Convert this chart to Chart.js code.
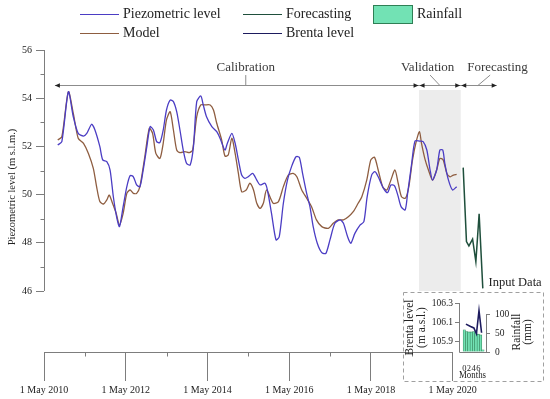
<!DOCTYPE html>
<html>
<head>
<meta charset="utf-8">
<script src="https://cdn.jsdelivr.net/npm/chart.js@4.4.0/dist/chart.umd.min.js"></script>
<style>
  html, body { margin: 0; padding: 0; background: #fff; }
  #wrap { position: relative; width: 550px; height: 399px; font-family: 'Liberation Serif', serif; }
  #mainChart { position: absolute; left: 0; top: 0; }
  #insetChart { position: absolute; left: 403px; top: 292px; }
  .lg-text { position: absolute; font-size: 14px; color: #222; line-height: 16px; white-space: nowrap; }
  .lg-line { position: absolute; height: 0; border-top: 1.6px solid; }
  .lg-box { position: absolute; border: 1.3px solid; box-sizing: border-box; }
</style>
</head>
<body>
<div id="wrap">
  <canvas id="mainChart" width="550" height="399"></canvas>
  <canvas id="insetChart" width="141" height="90"></canvas>
  <div id="legend"></div>
</div>
<script>
// ---- data (time in decimal years) ----
const yearTicks = [2010, 2011, 2012, 2013, 2014, 2015, 2016, 2017, 2018, 2019, 2020]
const mayOffset = 4 / 12
const levelTicks = [46, 47, 48, 49, 50, 51, 52, 53, 54, 55, 56]

const obsT = [2010.67, 2010.77, 2010.93, 2011.05, 2011.17, 2011.30, 2011.38, 2011.50, 2011.58, 2011.70,
  2011.77, 2011.87, 2011.95, 2012.03, 2012.11, 2012.18, 2012.27, 2012.36, 2012.44, 2012.52,
  2012.60, 2012.68, 2012.76, 2012.85, 2012.93, 2013.01, 2013.09, 2013.17, 2013.25, 2013.33,
  2013.42, 2013.50, 2013.58, 2013.66, 2013.74, 2013.82, 2013.91, 2013.99, 2014.07, 2014.17,
  2014.23, 2014.31, 2014.44, 2014.56, 2014.64, 2014.76, 2014.82, 2014.93, 2015.01, 2015.09,
  2015.17, 2015.25, 2015.33, 2015.44, 2015.54, 2015.62, 2015.74, 2015.80, 2015.90, 2016.01,
  2016.09, 2016.19, 2016.29, 2016.39, 2016.50, 2016.58, 2016.66, 2016.76, 2016.84, 2016.92,
  2017.02, 2017.13, 2017.23, 2017.33, 2017.45, 2017.58, 2017.66, 2017.76, 2017.84, 2017.94,
  2018.07, 2018.16, 2018.24, 2018.35, 2018.43, 2018.51, 2018.64, 2018.74, 2018.82, 2018.91,
  2018.99, 2019.07, 2019.17, 2019.23, 2019.33, 2019.41, 2019.52, 2019.61, 2019.70, 2019.78,
  2019.84, 2019.94, 2020.02, 2020.09, 2020.14, 2020.23, 2020.33, 2020.43]
const obsLevel = [52.06, 52.20, 54.27, 53.23, 52.54, 52.43, 52.54, 52.92, 52.68, 51.99,
  51.44, 51.37, 51.02, 49.91, 49.08, 48.67, 49.50, 50.33, 50.79, 50.74,
  50.40, 50.33, 51.02, 51.99, 52.82, 52.68, 52.20, 52.16, 52.68, 53.51,
  53.92, 53.86, 53.44, 52.68, 51.85, 51.30, 51.23, 51.99, 53.86, 54.09,
  53.72, 53.23, 52.82, 52.61, 52.34, 51.85, 52.13, 52.54, 52.13, 51.44,
  50.81, 50.67, 50.74, 50.88, 50.60, 50.40, 50.47, 50.19, 49.22, 48.12,
  48.26, 49.64, 50.60, 51.16, 51.57, 51.55, 50.88, 50.05, 49.50, 48.67,
  47.98, 47.59, 47.56, 48.12, 48.81, 48.95, 48.81, 48.26, 47.98, 48.39,
  48.74, 48.88, 49.91, 50.81, 50.95, 50.74, 50.26, 50.08, 50.40, 50.36,
  49.98, 49.50, 49.36, 50.05, 51.30, 52.22, 52.22, 52.20, 51.85, 51.02,
  50.60, 51.02, 51.85, 51.85, 51.30, 50.60, 50.19, 50.33]

const modT = [2010.67, 2010.77, 2010.93, 2011.05, 2011.17, 2011.30, 2011.42, 2011.54, 2011.62, 2011.70,
  2011.79, 2011.87, 2011.93, 2012.01, 2012.10, 2012.18, 2012.27, 2012.36, 2012.44, 2012.52,
  2012.60, 2012.68, 2012.80, 2012.91, 2012.99, 2013.07, 2013.17, 2013.25, 2013.33, 2013.42,
  2013.50, 2013.58, 2013.66, 2013.78, 2013.89, 2013.97, 2014.07, 2014.17, 2014.27, 2014.40,
  2014.48, 2014.56, 2014.68, 2014.76, 2014.84, 2014.93, 2015.01, 2015.09, 2015.17, 2015.28,
  2015.37, 2015.46, 2015.54, 2015.62, 2015.70, 2015.78, 2015.94, 2016.07, 2016.19, 2016.31,
  2016.43, 2016.52, 2016.64, 2016.76, 2016.88, 2017.00, 2017.13, 2017.29, 2017.41, 2017.53,
  2017.66, 2017.78, 2017.90, 2018.02, 2018.11, 2018.23, 2018.33, 2018.42, 2018.51, 2018.62,
  2018.72, 2018.82, 2018.92, 2019.00, 2019.08, 2019.18, 2019.26, 2019.35, 2019.44, 2019.52,
  2019.57, 2019.66, 2019.74, 2019.84, 2019.94, 2020.02, 2020.10, 2020.19, 2020.27, 2020.35,
  2020.43]
const modLevel = [52.27, 52.40, 54.27, 53.37, 52.34, 52.13, 51.71, 51.09, 50.33, 49.71,
  49.61, 49.78, 49.98, 49.64, 49.22, 48.74, 49.22, 50.05, 50.19, 50.05,
  50.05, 50.33, 51.57, 52.75, 52.54, 51.71, 51.50, 52.13, 53.10, 53.44,
  52.68, 51.85, 51.74, 51.78, 51.74, 51.85, 53.23, 53.72, 53.72, 53.72,
  53.51, 52.96, 52.27, 51.60, 51.64, 52.34, 51.71, 50.88, 50.12, 50.19,
  50.47, 50.19, 49.64, 49.43, 49.64, 50.19, 49.64, 49.71, 50.33, 50.81,
  50.88, 50.74, 50.19, 49.85, 49.50, 48.95, 48.67, 48.60, 48.81, 48.95,
  48.95, 49.08, 49.29, 49.64, 49.91, 50.60, 51.44, 51.55, 51.02, 50.33,
  50.19, 50.60, 51.02, 50.47, 49.91, 49.85, 50.33, 51.44, 52.20, 52.61,
  52.13, 51.44, 51.02, 50.60, 51.02, 51.50, 51.44, 50.88, 50.74, 50.81,
  50.84]

const fcT = [2020.59, 2020.67, 2020.73, 2020.82, 2020.90, 2020.98, 2021.07]
const fcLevel = [51.12, 48.05, 47.87, 48.15, 47.22, 49.20, 46.11]

// calibration start, validation start, forecasting start, forecasting end
const periodEdges = [2010.60, 2019.51, 2020.53, 2021.41]
const periodNames = ['Calibration', 'Validation', 'Forecasting']
const periodLabelAt = [2015.27, 2019.72, 2021.43]
const leaderFrom = [2015.27, 2019.78, 2021.25]
const leaderTo = [2015.27, 2020.02, 2020.95]
const validationTop = 54.34

// inset: months after the last observation
const monthTicks = [0, 2, 4, 6]
const rainMonth = [0, 1, 2, 3, 4, 5, 6, 7, 8]
const rainfall = [60, 55, 54, 54, 55, 52, 48, 46, 6]
const brentaMonth = [0.7, 2.7, 4.1, 5.2, 6.3, 7.4]
const brentaLevel = [106.08, 106.055, 106.04, 105.98, 106.22, 105.99]
const brentaTicks = [105.9, 106.1, 106.3]
const rainTicks = [0, 50, 100]

const SERIF = "'Liberation Serif', 'Times New Roman', serif"
const axisColor = '#7d7d7d'
const textColor = '#222'
const clear = 'rgba(0,0,0,0)'

function toPoints(xs, ys) {
    return xs.map((v, i) => ({ x: v, y: ys[i] }))
}

const mainDecor = {
    id: 'mainDecor',
    beforeDatasetsDraw(chart) {
        const { ctx } = chart
        const xs = chart.scales.x, ys = chart.scales.y
        const xa = xs.getPixelForValue(periodEdges[1])
        const xb = xs.getPixelForValue(periodEdges[2])
        const ya = ys.getPixelForValue(validationTop)
        const yb = ys.getPixelForValue(levelTicks[0])
        ctx.save()
        ctx.fillStyle = '#ececec'
        ctx.fillRect(xa, ya, xb - xa, yb - ya)
        ctx.restore()
    },
    afterDraw(chart) {
        const { ctx, chartArea } = chart
        const xs = chart.scales.x, ys = chart.scales.y
        ctx.save()
        ctx.strokeStyle = axisColor
        ctx.lineWidth = 1

        // y spine + minor ticks
        const xl = Math.round(chartArea.left) + 0.5
        ctx.beginPath()
        ctx.moveTo(xl, ys.getPixelForValue(levelTicks[levelTicks.length - 1]))
        ctx.lineTo(xl, ys.getPixelForValue(levelTicks[0]))
        levelTicks.forEach(v => {
            if (v % 2 === 0) return
            const py = Math.round(ys.getPixelForValue(v)) + 0.5
            ctx.moveTo(xl - 4, py)
            ctx.lineTo(xl, py)
        })
        ctx.stroke()

        // x spine + minor ticks
        const yb = Math.round(chartArea.bottom) + 0.5
        ctx.beginPath()
        ctx.moveTo(xs.getPixelForValue(yearTicks[0] + mayOffset), yb)
        ctx.lineTo(xs.getPixelForValue(yearTicks[yearTicks.length - 1] + mayOffset), yb)
        yearTicks.forEach(yr => {
            if (yr % 2 === 0) return
            const px = Math.round(xs.getPixelForValue(yr + mayOffset)) + 0.5
            ctx.moveTo(px, yb)
            ctx.lineTo(px, yb + 4)
        })
        ctx.stroke()

        // period arrows
        const ay = Math.round(ys.getPixelForValue(54.55)) + 0.5
        ctx.strokeStyle = '#8c8c8c'
        ctx.beginPath()
        ctx.moveTo(xs.getPixelForValue(periodEdges[0]), ay)
        ctx.lineTo(xs.getPixelForValue(periodEdges[3]), ay)
        ctx.stroke()

        ctx.fillStyle = '#222'
        function head(px, dir) {
            ctx.beginPath()
            ctx.moveTo(px, ay)
            ctx.lineTo(px - dir * 5, ay - 2.2)
            ctx.lineTo(px - dir * 5, ay + 2.2)
            ctx.closePath()
            ctx.fill()
        }
        head(xs.getPixelForValue(periodEdges[0]), -1)
        head(xs.getPixelForValue(periodEdges[1]) - 0.5, 1)
        head(xs.getPixelForValue(periodEdges[1]) + 0.5, -1)
        head(xs.getPixelForValue(periodEdges[2]) - 0.5, 1)
        head(xs.getPixelForValue(periodEdges[2]) + 0.5, -1)
        head(xs.getPixelForValue(periodEdges[3]), 1)

        // leader lines + period names
        ctx.strokeStyle = '#8c8c8c'
        ctx.beginPath()
        periodNames.forEach((name, i) => {
            ctx.moveTo(xs.getPixelForValue(leaderFrom[i]), ys.getPixelForValue(54.96))
            ctx.lineTo(xs.getPixelForValue(leaderTo[i]), ay)
        })
        ctx.stroke()

        ctx.fillStyle = '#3a3a3a'
        ctx.font = '13px ' + SERIF
        ctx.textAlign = 'center'
        ctx.textBaseline = 'middle'
        periodNames.forEach((name, i) => {
            ctx.fillText(name, xs.getPixelForValue(periodLabelAt[i]), ys.getPixelForValue(55.25))
        })

        ctx.fillStyle = textColor
        ctx.font = '12.5px ' + SERIF
        ctx.fillText('Input Data', xs.getPixelForValue(2021.86), ys.getPixelForValue(46.33))

        // y axis title
        ctx.font = '10.5px ' + SERIF
        ctx.translate(12.5, 187)
        ctx.rotate(-Math.PI / 2)
        ctx.fillText('Piezometric level (m s.l.m.)', 0, 0)
        ctx.restore()
    }
}

const mainChart = new Chart(document.getElementById('mainChart'), {
    type: 'line',
    data: {
        datasets: [
            {
                label: 'Piezometric level',
                data: toPoints(obsT, obsLevel),
                borderColor: '#4b3dc4',
                borderWidth: 1.3,
                pointRadius: 0,
                tension: 0.25
            },
            {
                label: 'Model',
                data: toPoints(modT, modLevel),
                borderColor: '#8e5d40',
                borderWidth: 1.3,
                pointRadius: 0,
                tension: 0.25
            },
            {
                label: 'Forecasting',
                data: toPoints(fcT, fcLevel),
                borderColor: '#1f4f3c',
                borderWidth: 1.5,
                pointRadius: 0,
                tension: 0
            }
        ]
    },
    options: {
        responsive: false,
        animation: false,
        devicePixelRatio: 1,
        events: [],
        layout: { padding: { top: 50, right: 5, left: 0, bottom: 0 } },
        plugins: { legend: { display: false }, tooltip: { enabled: false } },
        scales: {
            x: {
                type: 'linear',
                min: yearTicks[0] + mayOffset,
                max: yearTicks[0] + mayOffset + 501 / 40.87,
                afterFit: s => { s.height = 47 },
                afterBuildTicks: s => { s.ticks = yearTicks.map(yr => ({ value: yr + mayOffset })) },
                ticks: {
                    autoSkip: false,
                    maxRotation: 0,
                    padding: 3,
                    color: textColor,
                    font: { family: SERIF, size: 10 },
                    callback: (v, i) => (yearTicks[i] % 2 === 0 ? '1 May ' + yearTicks[i] : '')
                },
                grid: {
                    drawOnChartArea: false,
                    tickLength: 29,
                    tickColor: c => (yearTicks[c.index] % 2 === 0 ? axisColor : clear)
                },
                border: { display: false }
            },
            y: {
                type: 'linear',
                min: 56 - 302 / 24.1,
                max: 56,
                afterFit: s => { s.width = 44 },
                afterBuildTicks: s => { s.ticks = levelTicks.map(v => ({ value: v })) },
                ticks: {
                    padding: 4,
                    color: textColor,
                    font: { family: SERIF, size: 10 },
                    callback: v => (v % 2 === 0 ? String(v) : '')
                },
                grid: {
                    drawOnChartArea: false,
                    tickLength: 8,
                    tickColor: c => (c.tick && c.tick.value % 2 === 0 ? axisColor : clear)
                },
                border: { display: false }
            }
        }
    },
    plugins: [mainDecor]
})

const insetDecor = {
    id: 'insetDecor',
    beforeDraw(chart) {
        const { ctx } = chart
        ctx.save()
        ctx.strokeStyle = '#a0a0a0'
        ctx.lineWidth = 1
        ctx.setLineDash([4, 3])
        ctx.strokeRect(0.5, 0.5, chart.width - 1, chart.height - 1)
        ctx.restore()
    },
    afterDraw(chart) {
        const { ctx, chartArea } = chart
        const yl = chart.scales.y, yr = chart.scales.y2
        ctx.save()
        ctx.strokeStyle = axisColor
        ctx.lineWidth = 1
        const xl = Math.round(chartArea.left) + 0.5
        const xr = Math.round(chartArea.right) + 0.5
        const yb = Math.round(chartArea.bottom) + 0.5
        ctx.beginPath()
        ctx.moveTo(xl, yl.getPixelForValue(brentaTicks[brentaTicks.length - 1]))
        ctx.lineTo(xl, yb)
        ctx.lineTo(xr, yb)
        ctx.moveTo(xr, yr.getPixelForValue(rainTicks[rainTicks.length - 1]))
        ctx.lineTo(xr, yb)
        ctx.stroke()

        ctx.fillStyle = textColor
        ctx.font = '11.5px ' + SERIF
        ctx.textAlign = 'center'
        ctx.textBaseline = 'middle'
        ctx.translate(113.7, 40)
        ctx.rotate(-Math.PI / 2)
        ctx.fillText('Rainfall', 0, 0)
        ctx.fillText('(mm)', 0, 11.5)
        ctx.restore()
    }
}

const insetChart = new Chart(document.getElementById('insetChart'), {
    type: 'bar',
    data: {
        datasets: [
            {
                type: 'line',
                label: 'Brenta level',
                data: toPoints(brentaMonth, brentaLevel),
                yAxisID: 'y',
                borderColor: '#1d1b5e',
                borderWidth: 1.6,
                pointRadius: 0,
                tension: 0,
                order: 0
            },
            {
                type: 'bar',
                label: 'Rainfall',
                data: toPoints(rainMonth, rainfall),
                yAxisID: 'y2',
                backgroundColor: '#72e2b4',
                borderColor: '#2f7f55',
                borderWidth: 0.6,
                barPercentage: 1,
                categoryPercentage: 1,
                order: 1
            }
        ]
    },
    options: {
        responsive: false,
        animation: false,
        devicePixelRatio: 1,
        events: [],
        layout: { padding: { top: 11, left: 0, right: 0, bottom: 0 } },
        plugins: { legend: { display: false }, tooltip: { enabled: false } },
        scales: {
            x: {
                type: 'linear',
                offset: false,
                min: -2.27,
                max: 9.3,
                afterFit: s => { s.height = 30 },
                afterBuildTicks: s => { s.ticks = monthTicks.map(v => ({ value: v })) },
                ticks: {
                    autoSkip: false,
                    maxRotation: 0,
                    padding: 3.5,
                    color: textColor,
                    font: { family: SERIF, size: 8.5 },
                    callback: v => String(v)
                },
                grid: { display: false },
                border: { display: false },
                title: {
                    display: true,
                    text: 'Months',
                    color: textColor,
                    font: { family: SERIF, size: 10 },
                    padding: { top: 0, bottom: 1 }
                }
            },
            y: {
                type: 'linear',
                position: 'left',
                min: 106.3 - 49 / 96,
                max: 106.3,
                afterFit: s => { s.width = 56 },
                afterBuildTicks: s => { s.ticks = brentaTicks.map(v => ({ value: v })) },
                ticks: {
                    padding: 2,
                    color: textColor,
                    font: { family: SERIF, size: 9.5 },
                    callback: v => v.toFixed(1)
                },
                grid: { drawOnChartArea: false, tickLength: 4, tickColor: axisColor },
                border: { display: false },
                title: {
                    display: true,
                    text: ['Brenta level', '(m a.s.l.)'],
                    color: textColor,
                    font: { family: SERIF, size: 11.5, lineHeight: 1.02 },
                    padding: { top: 1, bottom: 0 }
                }
            },
            y2: {
                type: 'linear',
                position: 'right',
                min: 0,
                max: 132,
                afterFit: s => { s.width = 58 },
                afterBuildTicks: s => { s.ticks = rainTicks.map(v => ({ value: v })) },
                ticks: {
                    padding: 5,
                    color: textColor,
                    font: { family: SERIF, size: 9.5 },
                    callback: v => String(v)
                },
                grid: { drawOnChartArea: false, tickLength: 4, tickColor: axisColor },
                border: { display: false }
            }
        }
    },
    plugins: [insetDecor]
})

// legend laid out in two rows like the figure
function buildLegend() {
    const holder = document.getElementById('legend')
    const main = mainChart.data.datasets
    const inset = insetChart.data.datasets
    const entries = [
        { ds: main[0], left: 80, top: 14 },
        { ds: main[1], left: 80, top: 33 },
        { ds: main[2], left: 243, top: 14 },
        { ds: inset[0], left: 243, top: 33 },
        { ds: inset[1], left: 373, top: 14, box: true }
    ]
    entries.forEach(e => {
        const mark = document.createElement('div')
        if (e.box) {
            mark.className = 'lg-box'
            mark.style.left = e.left + 'px'
            mark.style.top = (e.top - 9) + 'px'
            mark.style.width = '40px'
            mark.style.height = '19px'
            mark.style.background = e.ds.backgroundColor
            mark.style.borderColor = e.ds.borderColor
        } else {
            mark.className = 'lg-line'
            mark.style.left = e.left + 'px'
            mark.style.top = e.top + 'px'
            mark.style.width = '39px'
            mark.style.borderTopColor = e.ds.borderColor
        }
        holder.appendChild(mark)

        const label = document.createElement('div')
        label.className = 'lg-text'
        label.textContent = e.ds.label
        label.style.left = (e.left + (e.box ? 44 : 43)) + 'px'
        label.style.top = (e.top - 8) + 'px'
        holder.appendChild(label)
    })
}

buildLegend()
</script>
</body>
</html>
